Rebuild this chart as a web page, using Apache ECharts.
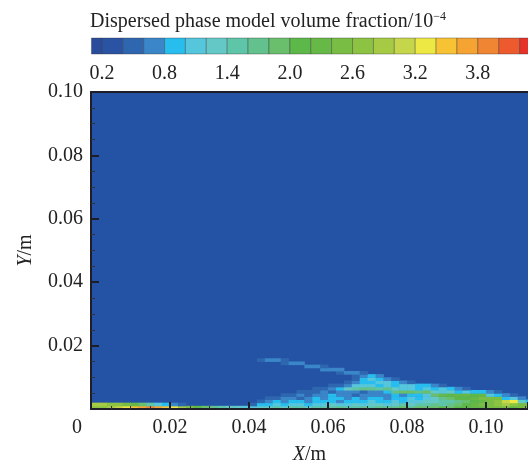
<!DOCTYPE html>
<html>
<head>
<meta charset="utf-8">
<script src="https://cdn.jsdelivr.net/npm/echarts@6/dist/echarts.min.js"></script>
<style>html,body{margin:0;padding:0;background:#fff;}#c{width:528px;height:465px;}</style>
</head>
<body>
<div id="c"></div>
<script>
// ---- data ----
const xTicks = [0, 0.02, 0.04, 0.06, 0.08, 0.10];
const yTicks = [0.02, 0.04, 0.06, 0.08, 0.10];
const cbLabels = ['0.2', '0.8', '1.4', '2.0', '2.6', '3.2', '3.8'];
// colour-level band edges (10^-4) and their colours
const cbEdges = [0.1, 0.2, 0.4, 0.6, 0.8, 1.0, 1.2, 1.4, 1.6, 1.8, 2.0, 2.2, 2.4, 2.6, 2.8, 3.0, 3.2, 3.4, 3.6, 3.8, 4.0, 4.2, 4.4];
const cbColors = ['#2a4c9c', '#2b53a3', '#2e66b0', '#3a86c8', '#27bdee', '#55c6dc', '#64c8c6', '#5ec5a8',
  '#62c18d', '#69bf6c', '#5db84a', '#66b946', '#7abd44', '#8dc343', '#a7ca45', '#c6d64a', '#ede843',
  '#f7c234', '#f5a332', '#f08533', '#ec5a2e', '#e5322a'];
// field cells: column width 0.002 m, row height 0.001 m, row 0 = wall.
// each row: list of [start column, level codes]; code = band index in cbEdges
const levelCodes = '0123456789abcdefghijkl';
const cellW = 0.002, cellH = 0.001;
const fieldRows = [
  [[0, 'ddefghijihgeca987665566767767778778788898999a9aabbcccbcc']],
  [[0, 'eeddcb975432'], [20, '244545545565565665676778789abccdedcc']],
  [[21, '234344344434445445455667789abcdfg64']],
  [[22, '223323434434344344545689aabccc453']],
  [[24, '22323343323333434459babbab5432']],
  [[26, '22232333233489989656454432']],
  [[28, '22346788786554545432']],
  [[30, '223555454554432']],
  [[32, '234455432']],
  [[33, '245432']],
  [[33, '2343']],
  [[31, '2332']],
  [[29, '333']],
  [[27, '332']],
  [[24, '233']],
  [[21, '2332']]
];

// ---- build series data ----
const fieldData = [];
fieldRows.forEach((segs, j) => {
  segs.forEach(([c0, s]) => {
    for (let i = 0; i < s.length; i++) {
      const k = levelCodes.indexOf(s[i]);
      if (k < 0) continue;
      const v = (cbEdges[k] + cbEdges[k + 1]) / 2;
      fieldData.push([(c0 + i) * cellW, j * cellH, v]);
    }
  });
});
const cbData = [];
for (let k = 0; k < cbColors.length; k++) cbData.push([cbEdges[k], cbEdges[k + 1], k]);

function colorOf(v) {
  for (let k = 0; k < cbColors.length; k++) if (v < cbEdges[k + 1]) return cbColors[k];
  return cbColors[cbColors.length - 1];
}

const FONT = 'Liberation Serif';
const TXT = '#222';
const AX = '#1e1e28';
const X_MAX = 0.1106;   // visible end of the x range at the right edge
const CB_MAX = 4.28;    // visible end of the colour bar

const chart = echarts.init(document.getElementById('c'), null, { renderer: 'canvas' });
chart.setOption({
  animation: false,
  backgroundColor: '#fff',
  title: {
    text: '{a|Dispersed phase model volume fraction/10}{s|\u22124}',
    left: 90, top: 11, padding: 0,
    textStyle: {
      fontWeight: 'normal',
      rich: {
        a: { fontFamily: FONT, fontSize: 20, color: TXT, fontWeight: 'normal' },
        s: { fontFamily: FONT, fontSize: 12, color: TXT, fontWeight: 'normal', padding: [0, 0, 9, 0] }
      }
    }
  },
  grid: [
    { left: 91, top: 92, right: 0, height: 317, show: true, backgroundColor: '#2453a5', borderWidth: 0,
      outerBoundsMode: 'none', containLabel: false },
    { left: 81, top: 38, right: 0, height: 16, outerBoundsMode: 'none', containLabel: false }
  ],
  xAxis: [
    {
      type: 'value', gridIndex: 0, min: 0, max: X_MAX, interval: 0.02, z: 10,
      name: '{i|X}/m', nameLocation: 'middle', nameGap: 36,
      nameTextStyle: { fontFamily: FONT, fontSize: 20, color: TXT,
        rich: { i: { fontFamily: FONT, fontSize: 20, color: TXT, fontStyle: 'italic' } } },
      axisLine: { show: true, onZero: false, lineStyle: { color: AX, width: 2 } },
      axisTick: { show: true, inside: true, length: 7, lineStyle: { color: AX, width: 2 } },
      minorTick: { show: true, splitNumber: 4, length: 3, lineStyle: { color: '#333', width: 1 } },
      splitLine: { show: false },
      axisLabel: {
        interval: 0, showMaxLabel: false, margin: 9, fontFamily: FONT, fontSize: 20, color: TXT,
        formatter: v => (Math.abs(v) < 1e-9 ? '{z|0}' : (xTicks.some(t => Math.abs(t - v) < 1e-9) ? v.toFixed(2) : '')),
        rich: { z: { fontFamily: FONT, fontSize: 20, color: TXT, padding: [0, 28, 0, 0] } }
      }
    },
    {
      type: 'value', gridIndex: 0, position: 'top', min: 0, max: X_MAX, z: 10,
      axisLine: { show: true, onZero: false, lineStyle: { color: AX, width: 2 } },
      axisTick: { show: false }, axisLabel: { show: false }, splitLine: { show: false }
    },
    {
      type: 'value', gridIndex: 1, min: 0, max: CB_MAX, interval: 0.2,
      axisLine: { show: false }, axisTick: { show: false }, splitLine: { show: false },
      axisLabel: {
        interval: 0, margin: 10, showMaxLabel: false, fontFamily: FONT, fontSize: 20, color: TXT,
        formatter: v => { const s = v.toFixed(1); return cbLabels.indexOf(s) >= 0 ? s : ''; }
      }
    }
  ],
  yAxis: [
    {
      type: 'value', gridIndex: 0, min: 0, max: 0.1, interval: 0.02, z: 10,
      name: '{i|Y}/m', nameLocation: 'middle', nameGap: 55,
      nameTextStyle: { fontFamily: FONT, fontSize: 20, color: TXT,
        rich: { i: { fontFamily: FONT, fontSize: 20, color: TXT, fontStyle: 'italic' } } },
      axisLine: { show: true, onZero: false, lineStyle: { color: AX, width: 2 } },
      axisTick: { show: true, inside: true, length: 8, lineStyle: { color: AX, width: 2 } },
      minorTick: { show: true, splitNumber: 4, length: 4, lineStyle: { color: '#333', width: 1 } },
      splitLine: { show: false },
      axisLabel: {
        interval: 0, showMinLabel: false, margin: 8, fontFamily: FONT, fontSize: 20, color: TXT,
        formatter: v => (yTicks.some(t => Math.abs(t - v) < 1e-9) ? v.toFixed(2) : '')
      }
    },
    { type: 'value', gridIndex: 1, min: 0, max: 1, show: false }
  ],
  series: [
    {
      type: 'custom', xAxisIndex: 0, yAxisIndex: 0, z: 2,
      data: fieldData,
      encode: { x: 0, y: 1 },
      renderItem: (params, api) => {
        const x = api.value(0), y = api.value(1), v = api.value(2);
        const p0 = api.coord([x, y + cellH]);
        const p1 = api.coord([x + cellW, y]);
        return {
          type: 'rect',
          shape: { x: p0[0], y: p0[1], width: p1[0] - p0[0] + 0.5, height: p1[1] - p0[1] + 0.5 },
          style: { fill: colorOf(v) }
        };
      }
    },
    {
      type: 'custom', xAxisIndex: 2, yAxisIndex: 1,
      data: cbData,
      encode: { x: [0, 1] },
      renderItem: (params, api) => {
        const lo = api.value(0), hi = api.value(1), k = api.value(2);
        const p0 = api.coord([lo, 1]);
        const p1 = api.coord([hi, 0]);
        return {
          type: 'rect',
          shape: { x: p0[0], y: p0[1], width: p1[0] - p0[0], height: p1[1] - p0[1] },
          style: { fill: cbColors[k], stroke: 'rgba(40,40,40,0.35)', lineWidth: 1 }
        };
      }
    }
  ]
});
</script>
</body>
</html>
